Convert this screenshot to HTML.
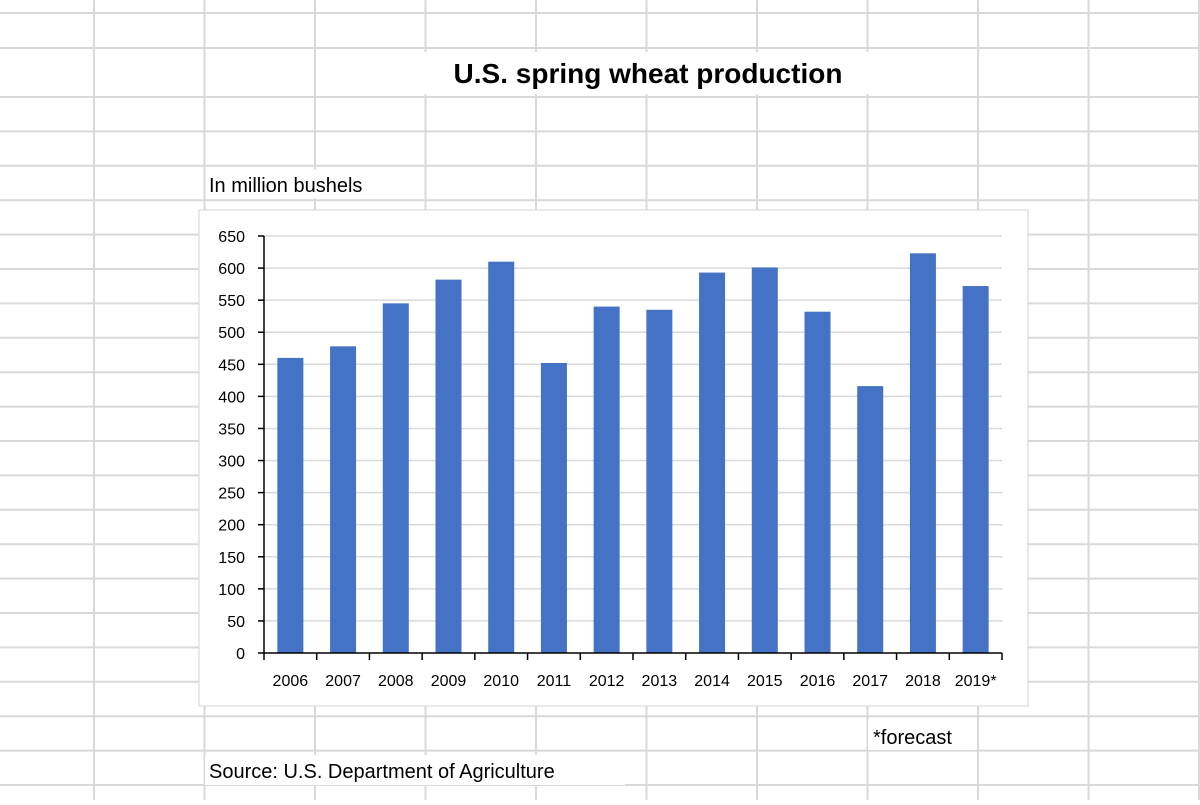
<!DOCTYPE html>
<html><head><meta charset="utf-8"><style>
body{margin:0;width:1200px;height:800px;overflow:hidden;background:#fff;font-family:"Liberation Sans",sans-serif}
</style></head><body>
<svg width="1200" height="800" id="svg" font-family="Liberation Sans, sans-serif">
<g id="grid" stroke="#d9d9d9" stroke-width="2"></g>
<rect x="199" y="210" width="829" height="496" fill="#fff" stroke="#d4d4d4"/>
<rect x="199" y="56" width="0" height="0" fill="none"/>
<rect x="420" y="52" width="460" height="42" fill="#fff"/>
<text x="648" y="83" text-anchor="middle" font-size="28" font-weight="bold" fill="#000">U.S. spring wheat production</text>
<rect x="206" y="170" width="200" height="28" fill="#fff"/>
<text x="209" y="192" font-size="20" fill="#000">In million bushels</text>
<g id="plot"></g>
<rect x="868" y="720" width="108" height="30" fill="#fff"/>
<text x="873" y="744" font-size="20" fill="#000">*forecast</text>
<rect x="205" y="755" width="420" height="30" fill="#fff"/>
<text x="209" y="778" font-size="20" fill="#000">Source: U.S. Department of Agriculture</text>
</svg>
<script>
const categories=["2006","2007","2008","2009","2010","2011","2012","2013","2014","2015","2016","2017","2018","2019*"];
const production=[460,478,545,582,610,452,540,535,593,601,532,416,623,572];
const yTicks=[0,50,100,150,200,250,300,350,400,450,500,550,600,650];
const NS="http://www.w3.org/2000/svg";
function mk(t,a,p){const e=document.createElementNS(NS,t);for(const k in a)e.setAttribute(k,a[k]);p.appendChild(e);return e;}
const grid=document.getElementById('grid');
const cols=[];for(let x=94;x<1200;x+=110.5)cols.push(x);
cols.forEach(x=>{const l=mk('line',{x1:x,y1:0,x2:x,y2:800},grid);

});
const rows=[13,48];for(let y=97;y<800;y+=34.4)rows.push(y);
rows.forEach(y=>{const l=mk('line',{x1:0,y1:y,x2:1200,y2:y},grid);

});
const plot=document.getElementById('plot');
const x0=264,x1=1002,yTop=236,yZero=653,yMax=650;
const Y=v=>yZero-(v/yMax)*(yZero-yTop);
const band=(x1-x0)/categories.length;
const X=i=>x0+band*i;
yTicks.forEach(t=>{
 if(t>0){const g=mk('line',{x1:x0,y1:Y(t),x2:x1,y2:Y(t),stroke:'#d9d9d9','stroke-width':1.5},plot);
 
 }
 const tk=mk('line',{x1:x0-6,y1:Y(t),x2:x0,y2:Y(t),stroke:'#000','stroke-width':1.5},plot);
 
 
 const tx=mk('text',{x:245,y:Y(t)+6,'text-anchor':'end','font-size':16,fill:'#000'},plot);
 tx.textContent=t;
 
 
});
production.forEach((v,i)=>{
 const bw=26;
 const r=mk('rect',{x:X(i)+band/2-bw/2,y:Y(v),width:bw,height:yZero-Y(v),fill:'#4472c4'},plot);
 
 
});
categories.forEach((c,i)=>{
 const tk=mk('line',{x1:X(i),y1:yZero,x2:X(i),y2:yZero+7,stroke:'#000','stroke-width':1.5},plot);
 
 
 const tx=mk('text',{x:X(i)+band/2,y:686,'text-anchor':'middle','font-size':16,fill:'#000'},plot);
 tx.textContent=c;
 
 
});
const lt=mk('line',{x1:x1,y1:yZero,x2:x1,y2:yZero+7,stroke:'#000','stroke-width':1.5},plot);


const ya=mk('line',{x1:x0,y1:yTop,x2:x0,y2:yZero,stroke:'#000','stroke-width':1.5},plot);


const xa=mk('line',{x1:x0,y1:yZero,x2:x1,y2:yZero,stroke:'#000','stroke-width':1.5},plot);


</script>
</body></html>
